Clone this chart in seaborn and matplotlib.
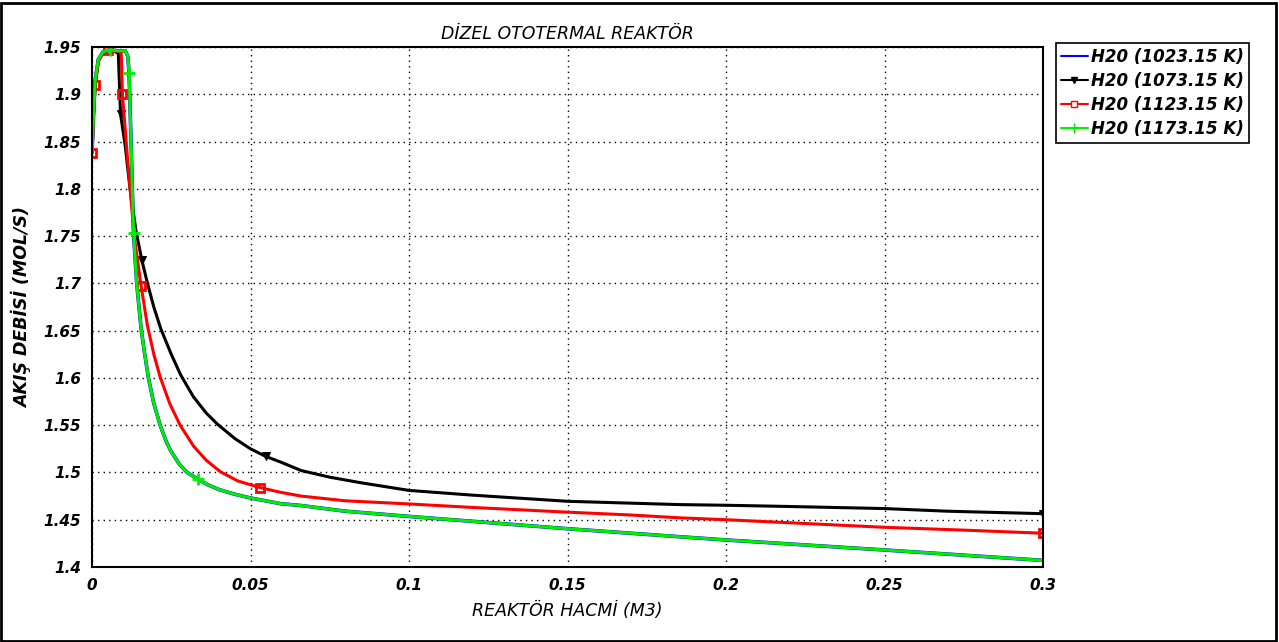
import seaborn as sns
import matplotlib.pyplot as plt
from matplotlib.lines import Line2D
from matplotlib.patches import Rectangle

# veri
x_1073 = [0, 0.0005, 0.001, 0.002, 0.0035, 0.005, 0.007, 0.0083, 0.009, 0.0105, 0.012, 0.0139,
          0.0157, 0.0175, 0.0195, 0.0217, 0.025, 0.028, 0.032, 0.036, 0.0396, 0.045, 0.05, 0.0548,
          0.0595, 0.066, 0.075, 0.085, 0.1, 0.12, 0.15, 0.1854, 0.2, 0.22, 0.25, 0.27, 0.3]
y_1073 = [1.838, 1.88, 1.91, 1.935, 1.944, 1.946, 1.946, 1.943, 1.879, 1.845, 1.80, 1.755,
          1.725, 1.70, 1.675, 1.652, 1.625, 1.603, 1.58, 1.563, 1.551, 1.536, 1.525, 1.517,
          1.511, 1.502, 1.495, 1.489, 1.481, 1.476, 1.4695, 1.466, 1.4653, 1.464, 1.4618, 1.459, 1.4564]

x_1123 = [0, 0.0005, 0.001, 0.002, 0.0035, 0.005, 0.007, 0.0092, 0.0096, 0.011, 0.0133, 0.0155,
          0.0175, 0.0195, 0.0215, 0.0245, 0.0278, 0.032, 0.036, 0.0404, 0.046, 0.053, 0.0595,
          0.066, 0.08, 0.1, 0.12, 0.15, 0.17, 0.1854, 0.2, 0.225, 0.25, 0.275, 0.3]
y_1123 = [1.838, 1.88, 1.91, 1.935, 1.944, 1.947, 1.946, 1.945, 1.90, 1.84, 1.75, 1.697,
          1.655, 1.625, 1.601, 1.573, 1.55, 1.528, 1.513, 1.501, 1.491, 1.484, 1.479,
          1.475, 1.47, 1.4667, 1.463, 1.458, 1.455, 1.452, 1.45, 1.446, 1.442, 1.439, 1.4357]

x_1173 = [0, 0.0005, 0.001, 0.002, 0.0035, 0.0057, 0.008, 0.0105, 0.0113, 0.0117, 0.0124, 0.0131,
          0.0141, 0.0155, 0.0165, 0.0178, 0.0195, 0.0215, 0.0235, 0.025, 0.0275, 0.03, 0.0334,
          0.0365, 0.04, 0.045, 0.05, 0.0595, 0.066, 0.08, 0.1, 0.125, 0.15, 0.1854, 0.2, 0.25, 0.3]
y_1173 = [1.838, 1.88, 1.915, 1.937, 1.945, 1.947, 1.946, 1.946, 1.94, 1.922, 1.84, 1.753,
          1.70, 1.652, 1.628, 1.60, 1.573, 1.55, 1.532, 1.522, 1.509, 1.50, 1.493,
          1.487, 1.482, 1.477, 1.473, 1.467, 1.465, 1.459, 1.4535, 1.447, 1.4405, 1.432, 1.4286, 1.418, 1.407]

# 1023.15 K egrisi 1173.15 K ile ust uste
x_1023 = x_1173
y_1023 = y_1173

# isaretli noktalar
mark_1073 = [0.009, 0.0157, 0.0548, 0.3]
mark_1123 = [0, 0.001, 0.005, 0.0096, 0.0155, 0.053, 0.3]
mark_1173 = [0.0057, 0.0117, 0.0131, 0.0334, 0.3]

labels = ['H20 (1023.15 K)', 'H20 (1073.15 K)', 'H20 (1123.15 K)', 'H20 (1173.15 K)']
xticks = [0, 0.05, 0.1, 0.15, 0.2, 0.25, 0.3]
xtick_labels = ['0', '0.05', '0.1', '0.15', '0.2', '0.25', '0.3']
yticks = [1.4, 1.45, 1.5, 1.55, 1.6, 1.65, 1.7, 1.75, 1.8, 1.85, 1.9, 1.95]
ytick_labels = ['1.4', '1.45', '1.5', '1.55', '1.6', '1.65', '1.7', '1.75', '1.8', '1.85', '1.9', '1.95']

sns.set_style('white')
plt.rcParams['font.family'] = ['DejaVu Sans']
plt.rcParams['text.color'] = 'black'
plt.rcParams['axes.labelcolor'] = 'black'
plt.rcParams['xtick.color'] = 'black'
plt.rcParams['ytick.color'] = 'black'

fig = plt.figure(figsize=(12.79, 6.42), dpi=100)
ax = fig.add_axes([92 / 1279, 1 - 567 / 642, (1043 - 92) / 1279, (567 - 47) / 642])

colors = ['#0000ff', '#000000', '#ff0000', '#00ee00']
sns.lineplot(x=x_1023, y=y_1023, sort=False, estimator=None, color=colors[0], lw=2.6, ax=ax)
sns.lineplot(x=x_1073, y=y_1073, sort=False, estimator=None, color=colors[1], lw=2.2, ax=ax,
             marker='v', markersize=6, mec=colors[1], markevery=[x_1073.index(v) for v in mark_1073])
sns.lineplot(x=x_1123, y=y_1123, sort=False, estimator=None, color=colors[2], lw=2.2, ax=ax,
             marker='s', markersize=5.5, mfc='none', mec=colors[2], mew=2,
             markevery=[x_1123.index(v) for v in mark_1123])
sns.lineplot(x=x_1173, y=y_1173, sort=False, estimator=None, color=colors[3], lw=2.2, ax=ax,
             marker='+', markersize=8, mec=colors[3], mew=2,
             markevery=[x_1173.index(v) for v in mark_1173])

ax.set_xlim(0, 0.3)
ax.set_ylim(1.4, 1.95)
ax.set_xticks(xticks)
ax.set_xticklabels(xtick_labels)
ax.set_yticks(yticks)
ax.set_yticklabels(ytick_labels)
ax.tick_params(direction='in', length=3, color='black', pad=8)
for lab in ax.get_xticklabels() + ax.get_yticklabels():
    lab.set_fontsize(11)
    lab.set_fontweight('bold')
    lab.set_fontstyle('italic')
ax.grid(True, color='black', linestyle=(0, (1, 3)), linewidth=1)
for sp in ax.spines.values():
    sp.set_color('black')
    sp.set_linewidth(1.5)

ax.set_title('DİZEL OTOTERMAL REAKTÖR', fontsize=12.5, fontstyle='italic', pad=6)
ax.set_xlabel('REAKTÖR HACMİ (M3)', fontsize=12.5, fontstyle='italic', labelpad=6)
ax.set_ylabel('AKIŞ DEBİSİ (MOL/S)', fontsize=12.5, fontstyle='italic', fontweight='bold', labelpad=8)

handles = [
    Line2D([], [], color=colors[0], lw=1.5),
    Line2D([], [], color=colors[1], lw=1.5, marker='v', markersize=5),
    Line2D([], [], color=colors[2], lw=1.5, marker='s', markersize=5, mfc='white'),
    Line2D([], [], color=colors[3], lw=1.5, marker='+', markersize=7),
]
leg = ax.legend(handles, labels, loc='upper left', bbox_to_anchor=(1056 / 1279, 1 - 43 / 642),
                bbox_transform=fig.transFigure, borderaxespad=0, fancybox=False, framealpha=1,
                edgecolor='black', numpoints=1, handlelength=1.6, handletextpad=0.2,
                labelspacing=0.35, borderpad=0.3,
                prop={'size': 12, 'weight': 'bold', 'style': 'italic'})
leg.get_frame().set_linewidth(1.2)

# dis cerceve
fig.patches.append(Rectangle((0.001, 0.002), 0.997, 0.993, transform=fig.transFigure,
                             fill=False, edgecolor='black', lw=2))

plt.savefig('out.png', dpi=100)
